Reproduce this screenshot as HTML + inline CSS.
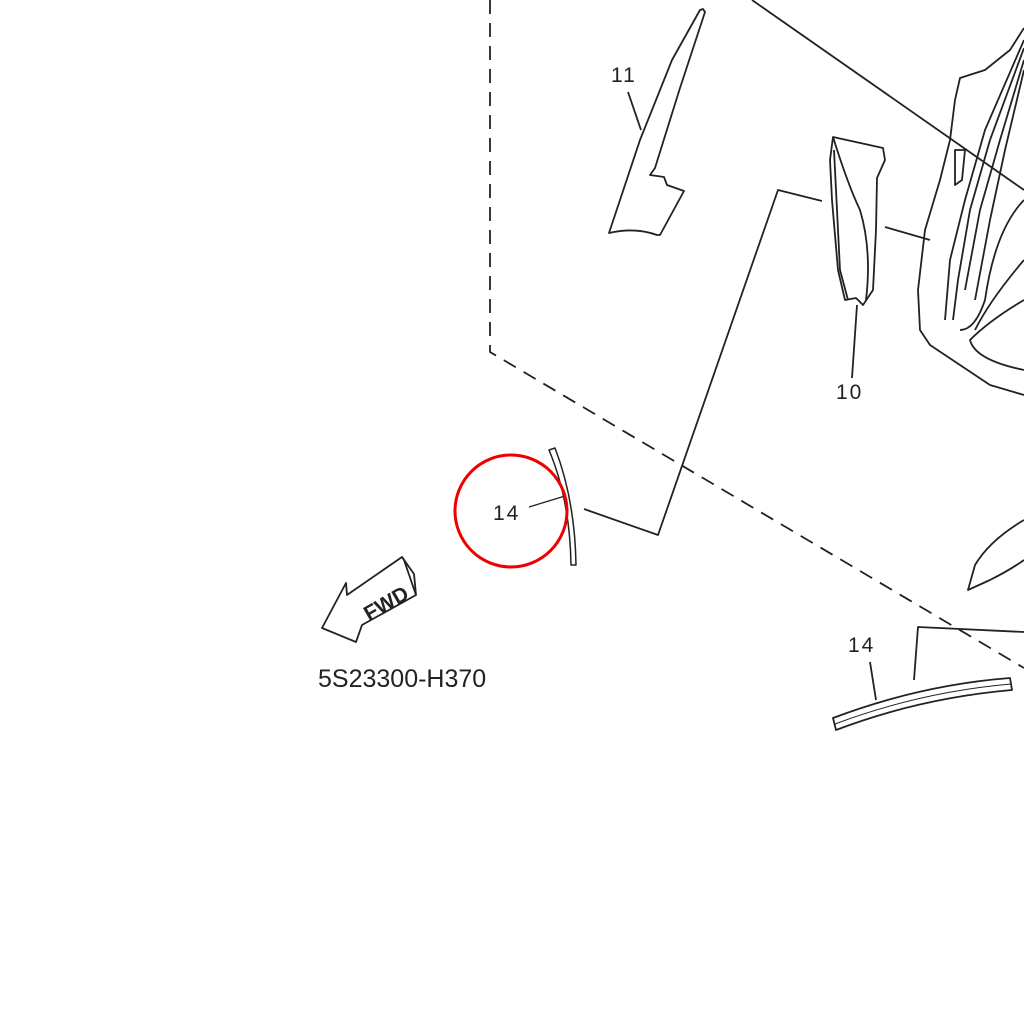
<!DOCTYPE html>
<html><head><style>
html,body{margin:0;padding:0;background:#fff;}
svg{display:block;}
text{font-family:"Liberation Sans",sans-serif;fill:#222;}
</style></head><body>
<svg width="1024" height="1024" viewBox="0 0 1024 1024" xmlns="http://www.w3.org/2000/svg">
<g fill="none" stroke="#222" stroke-width="1.8" stroke-linejoin="round">
<polyline points="490,0 490,352 1024,668" stroke-dasharray="14,9"/>
<line x1="752" y1="0" x2="1024" y2="190"/>
<polyline points="584,509 658,535 778,190 822,201"/>
<path d="M703,9 L705,12 L680,88 L670,120 L655,168 L650,175 L664,177 L667,185 L684,191 L660,235 L657,235 Q635,227 609,233 L620,200 L640,140 L672,60 L700,10 Z"/>
<line x1="628" y1="92" x2="641" y2="130"/>
<path d="M833,137 L883,148 L885,160 L877,178 L876,230 L873,290 L863,305 L856,298 L845,300 L838,270 L832,200 L830,160 Z"/>
<path d="M833,137 Q848,185 860,210 Q872,250 866,300"/>
<path d="M834,150 L840,270 L848,300"/>
<line x1="857" y1="305" x2="852" y2="378"/>
<line x1="885" y1="227" x2="930" y2="240"/>
<path d="M1024,28 L1010,50 L985,70 L960,78 L955,100 L950,140 L940,180 L925,230 L918,290 L920,330 L930,345 L960,365 L990,385 L1024,395"/>
<path d="M1024,40 L985,130 L965,200 L950,260 L945,320"/>
<path d="M1024,48 L990,140 L970,210 L958,280 L953,320"/>
<path d="M1024,60 L1000,140 L980,210 L965,290"/>
<path d="M1024,70 L1005,150 L990,220 L975,300"/>
<path d="M1024,200 Q995,230 985,300 Q975,330 960,330"/>
<path d="M1024,260 Q990,300 975,330"/>
<path d="M1024,300 Q990,320 970,340 Q975,360 1024,370"/>
<path d="M955,150 L965,150 L962,180 L955,185 Z"/>
<path d="M1024,520 Q990,540 975,565 L968,590 L990,580 Q1010,570 1024,560"/>
<path d="M549,450 L555,448 Q575,500 576,565 L571,565 Q570,500 549,450 Z" stroke-width="1.5"/>
<line x1="529" y1="507" x2="565" y2="496" stroke-width="1.4"/>
<path d="M833,718 Q920,685 1010,678 L1012,690 Q920,698 836,730 Z"/>
<path d="M835,724 Q920,692 1011,684" stroke-width="1"/>
<line x1="870" y1="662" x2="876" y2="700"/>
<polyline points="914,680 918,627 1024,632"/>
<path d="M322,628 L346,583 L347,595 L402,557 L414,574 L416,595 L362,625 L356,642 Z"/>
<path d="M402,557 L404,560 L416,595"/>
</g>
<circle cx="511" cy="511" r="56" fill="none" stroke="#e00" stroke-width="3"/>
<text x="611" y="82" font-size="21" letter-spacing="2">11</text>
<text x="836" y="399" font-size="21" letter-spacing="2">10</text>
<text x="493" y="520" font-size="21" letter-spacing="2">14</text>
<text x="848" y="652" font-size="21" letter-spacing="2">14</text>
<text x="360" y="612" font-size="21" font-weight="bold" transform="rotate(-30 382 600)">FWD</text>
<text x="318" y="687" font-size="25">5S23300-H370</text>
</svg>
</body></html>
